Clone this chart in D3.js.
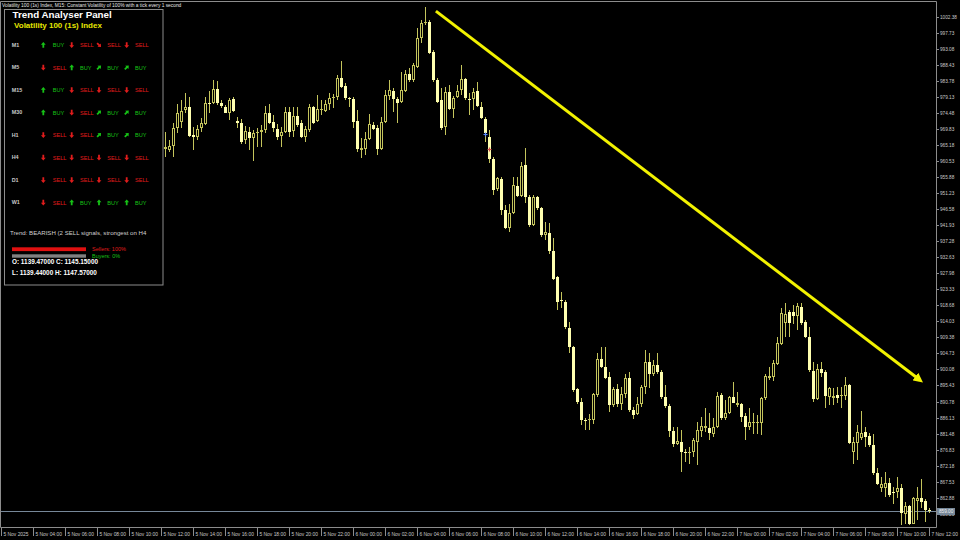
<!DOCTYPE html>
<html>
<head>
<meta charset="utf-8">
<script src="https://cdn.jsdelivr.net/npm/d3@7"></script>
<style>
html, body { margin: 0; padding: 0; background: #000; }
svg { display: block; }
text { font-family: "Liberation Sans", Arial, sans-serif; }
</style>
</head>
<body>
<svg id="chart" width="960" height="540"></svg>
<script>
// M15 bars, first visible one is 5 Nov 12:15
var firstBar = new Date(2025, 10, 5, 12, 15);

var open = [
  964.0, 963.7, 965.0, 970.0, 971.9, 975.3, 976.1, 968.1, 967.6, 970.0,
  971.3, 977.3, 977.3, 981.3, 977.3, 976.3, 974.4, 978.4, 972.2, 971.6,
  966.6, 969.0, 967.1, 968.8, 968.9, 969.5, 974.4, 971.9, 969.8, 967.8,
  968.9, 974.8, 969.2, 973.6, 971.5, 967.6, 969.5, 976.3, 972.2, 975.3,
  975.0, 977.0, 978.7, 979.0, 984.5, 982.3, 978.7, 978.5, 972.1, 963.7,
  963.9, 966.8, 971.0, 970.0, 963.9, 971.9, 979.5, 980.7, 978.4, 977.7,
  980.9, 985.8, 984.0, 987.9, 996.1, 1000.5, 1000.9, 992.2, 984.0, 978.2,
  970.5, 980.4, 975.5, 979.0, 981.1, 984.3, 978.5, 978.4, 980.9, 976.3,
  972.7, 967.6, 961.1, 952.3, 955.3, 946.3, 941.0, 945.4, 953.3, 950.4,
  959.4, 950.2, 942.0, 950.0, 946.8, 939.1, 939.7, 934.5, 926.8, 920.2,
  919.7, 912.2, 906.5, 894.3, 890.7, 885.5, 885.4, 885.4, 892.7, 903.1,
  900.9, 897.8, 889.8, 894.4, 890.2, 893.1, 897.5, 888.3, 887.2, 890.2,
  895.1, 902.3, 898.8, 901.4, 899.4, 892.2, 889.6, 882.3, 878.6, 879.1,
  876.0, 875.8, 876.0, 879.1, 882.3, 883.0, 883.0, 881.5, 883.5, 892.7,
  885.9, 887.5, 892.2, 889.8, 890.0, 886.6, 883.3, 884.6, 884.6, 884.6,
  891.7, 897.5, 897.8, 901.8, 907.6, 913.5, 916.6, 916.8, 915.6, 918.3,
  913.7, 909.4, 899.7, 891.4, 900.1, 899.4, 892.2, 891.7, 892.7, 892.4,
  892.4, 895.6, 876.0, 878.8, 880.1, 882.0, 880.8, 878.2, 870.0, 865.6,
  865.6, 867.2, 864.6, 864.6, 865.6, 858.2, 860.5, 855.4, 862.0, 862.7,
  861.9, 859.3
];
var high = [
  968.8, 966.6, 971.5, 977.0, 978.2, 980.2, 979.2, 970.5, 971.0, 972.9,
  979.0, 980.9, 984.0, 983.8, 978.2, 976.8, 978.9, 979.2, 973.4, 972.6,
  970.7, 970.5, 969.5, 970.0, 971.0, 976.5, 977.1, 973.9, 971.3, 970.5,
  976.1, 976.1, 976.1, 976.1, 972.4, 970.7, 977.1, 976.5, 979.7, 978.2,
  978.2, 980.2, 979.9, 985.5, 989.6, 983.1, 979.2, 979.0, 975.3, 967.1,
  968.8, 974.1, 971.9, 971.0, 973.4, 981.1, 984.0, 981.6, 979.2, 986.4,
  986.9, 987.4, 988.9, 999.0, 1001.4, 1005.3, 1001.4, 992.7, 984.5, 981.6,
  982.1, 982.6, 979.4, 982.6, 988.4, 984.5, 980.2, 981.6, 983.5, 977.7,
  973.4, 969.5, 961.8, 956.0, 956.0, 947.8, 948.2, 956.0, 956.0, 960.3,
  964.2, 950.7, 950.7, 950.4, 947.3, 942.9, 942.5, 938.1, 927.2, 922.6,
  920.2, 913.9, 906.9, 894.6, 891.7, 885.9, 887.3, 893.2, 904.8, 906.5,
  906.5, 899.4, 895.1, 896.0, 895.1, 898.9, 899.4, 889.3, 892.2, 895.6,
  905.7, 904.9, 902.8, 904.8, 899.9, 895.6, 890.1, 883.5, 883.5, 882.5,
  876.9, 877.7, 880.1, 884.9, 886.4, 888.8, 887.4, 885.9, 893.6, 893.3,
  891.2, 892.4, 896.5, 893.6, 890.3, 887.4, 888.8, 887.4, 886.9, 892.2,
  898.8, 900.9, 902.8, 909.6, 917.8, 919.3, 917.3, 918.8, 919.3, 919.4,
  914.4, 912.5, 902.3, 901.8, 902.3, 899.9, 895.1, 894.6, 894.9, 895.1,
  897.8, 895.9, 880.6, 884.0, 888.1, 883.5, 881.6, 881.4, 871.4, 869.0,
  870.4, 868.5, 866.1, 869.0, 867.0, 861.7, 860.8, 863.0, 866.1, 868.2,
  862.4, 859.8
];
var low = [
  961.8, 963.2, 961.8, 968.6, 970.0, 974.4, 967.6, 963.7, 966.6, 969.0,
  971.0, 974.4, 977.1, 976.7, 975.8, 974.4, 972.4, 974.8, 970.0, 965.6,
  965.6, 963.7, 960.6, 964.7, 964.7, 968.6, 971.3, 969.0, 966.6, 964.7,
  968.6, 967.6, 967.6, 970.5, 967.1, 966.1, 969.0, 971.3, 971.9, 973.9,
  974.8, 975.3, 975.8, 978.2, 981.6, 978.2, 976.3, 970.0, 963.2, 961.3,
  962.3, 966.6, 969.5, 962.3, 963.7, 971.5, 978.2, 974.8, 971.5, 977.3,
  980.6, 983.5, 983.5, 987.4, 994.7, 1000.0, 991.6, 983.5, 977.3, 969.5,
  968.1, 975.3, 972.9, 978.7, 979.7, 978.2, 973.9, 975.3, 976.3, 972.6,
  966.1, 959.9, 950.7, 951.9, 944.9, 940.7, 940.0, 945.2, 950.2, 950.0,
  948.3, 941.5, 941.7, 946.3, 938.6, 937.6, 933.7, 926.0, 917.3, 917.8,
  911.7, 904.8, 893.6, 890.2, 883.9, 882.5, 882.5, 884.4, 892.2, 900.4,
  897.2, 887.8, 889.3, 889.3, 888.3, 891.7, 887.8, 885.6, 886.9, 889.3,
  892.9, 894.6, 898.2, 898.9, 891.4, 888.8, 880.6, 877.7, 878.1, 870.4,
  873.3, 872.8, 874.8, 872.4, 880.6, 882.0, 879.6, 880.6, 883.0, 885.4,
  885.4, 887.1, 890.3, 889.3, 884.9, 879.6, 882.5, 881.5, 881.4, 881.1,
  891.2, 897.0, 896.8, 901.4, 907.2, 909.6, 909.6, 913.3, 911.5, 913.0,
  909.1, 899.4, 890.7, 891.2, 898.0, 888.8, 889.8, 889.8, 890.3, 888.8,
  891.2, 878.6, 872.8, 873.8, 879.6, 877.7, 877.7, 869.5, 866.6, 864.6,
  863.2, 863.2, 861.2, 862.7, 855.0, 855.4, 855.0, 855.2, 856.4, 859.8,
  855.9, 858.5
];
var close = [
  964.7, 965.0, 970.0, 974.5, 975.0, 976.1, 967.9, 967.6, 969.7, 971.5,
  977.3, 977.1, 981.3, 977.3, 976.5, 974.5, 978.2, 975.1, 971.5, 965.9,
  969.2, 967.1, 968.7, 968.9, 969.6, 974.4, 971.5, 970.0, 967.6, 969.0,
  974.8, 969.0, 973.6, 971.0, 967.6, 969.7, 976.3, 971.6, 975.6, 975.5,
  977.0, 978.7, 979.0, 984.5, 982.1, 978.7, 978.4, 971.9, 963.9, 964.2,
  966.8, 971.2, 969.7, 963.9, 971.9, 979.7, 981.0, 978.4, 977.4, 981.1,
  985.8, 984.0, 988.4, 996.1, 1000.6, 1000.9, 991.9, 984.0, 977.7, 970.0,
  980.4, 975.5, 978.7, 980.9, 984.3, 978.7, 978.4, 980.6, 976.6, 972.9,
  968.6, 961.1, 952.1, 955.5, 946.3, 941.0, 945.4, 953.6, 950.4, 959.1,
  950.0, 942.0, 950.0, 946.8, 939.1, 940.0, 934.5, 926.3, 919.7, 920.0,
  912.3, 906.5, 894.1, 890.7, 885.4, 885.3, 885.6, 893.0, 903.1, 900.7,
  897.5, 889.8, 894.4, 890.2, 893.1, 897.5, 888.3, 886.9, 890.2, 895.1,
  902.3, 898.8, 901.4, 899.4, 892.0, 889.6, 882.3, 878.6, 879.4, 876.2,
  875.8, 876.2, 879.6, 882.5, 883.7, 883.7, 881.7, 883.5, 892.4, 885.9,
  887.5, 892.2, 890.4, 890.4, 886.4, 883.5, 884.9, 884.9, 884.9, 891.7,
  898.3, 898.2, 902.0, 907.8, 916.4, 916.1, 913.5, 915.6, 918.5, 913.5,
  909.4, 899.9, 891.4, 900.1, 899.1, 892.4, 894.6, 892.4, 891.7, 892.7,
  895.6, 878.8, 879.1, 882.0, 881.7, 880.6, 878.2, 870.0, 866.9, 867.0,
  867.2, 863.7, 864.2, 865.6, 858.4, 860.5, 855.4, 862.7, 862.7, 861.7,
  859.3, 859.0
];

var yTickLabels = ["858.23", "862.88", "867.53", "872.18", "876.83", "881.48", "886.13", "890.78",
  "895.43", "900.08", "904.73", "909.38", "914.03", "918.68", "923.33", "927.98", "932.63",
  "937.28", "941.93", "946.58", "951.23", "955.88", "960.53", "965.18", "969.83", "974.48",
  "979.13", "983.78", "988.43", "993.08", "997.73", "1002.38"];

var xTickLabels = ["5 Nov 2025", "5 Nov 04:00", "5 Nov 06:00", "5 Nov 08:00", "5 Nov 10:00",
  "5 Nov 12:00", "5 Nov 14:00", "5 Nov 16:00", "5 Nov 18:00", "5 Nov 20:00", "5 Nov 22:00",
  "6 Nov 00:00", "6 Nov 02:00", "6 Nov 04:00", "6 Nov 06:00", "6 Nov 08:00", "6 Nov 10:00",
  "6 Nov 12:00", "6 Nov 14:00", "6 Nov 16:00", "6 Nov 18:00", "6 Nov 20:00", "6 Nov 22:00",
  "7 Nov 00:00", "7 Nov 02:00", "7 Nov 04:00", "7 Nov 06:00", "7 Nov 08:00", "7 Nov 10:00",
  "7 Nov 12:00"];

// hand-drawn trend arrow (time, price)
var trendTimes = [new Date(2025, 10, 6, 5, 11), new Date(2025, 10, 7, 11, 26)];
var trendPrices = [1004.0, 897.0];

// small trade marks on the chart
var markBars = [80, 81];
var markPrices = [968.4, 964.0];
var markColors = ["#5a8cff", "#d04848"];

// panel contents
var timeframes = ["M1", "M5", "M15", "M30", "H1", "H4", "D1", "W1"];
var signalDirs = [
  ["up", "down", "downright", "down"],
  ["down", "up", "upright", "upright"],
  ["up", "down", "down", "down"],
  ["up", "down", "upright", "upright"],
  ["down", "down", "upright", "upright"],
  ["down", "down", "down", "down"],
  ["down", "down", "down", "down"],
  ["down", "up", "up", "up"]
];
var signalText = [
  ["BUY", "SELL", "SELL", "SELL"],
  ["SELL", "BUY", "BUY", "BUY"],
  ["BUY", "SELL", "SELL", "SELL"],
  ["BUY", "SELL", "BUY", "BUY"],
  ["SELL", "SELL", "BUY", "BUY"],
  ["SELL", "SELL", "SELL", "SELL"],
  ["SELL", "SELL", "SELL", "SELL"],
  ["SELL", "BUY", "BUY", "BUY"]
];
var sellersPct = 100;
var buyersPct = 0;
var lastOHLC = ["1139.47000", "1145.15000", "1139.44000", "1147.57000"];

var svg = d3.select('#chart');
svg.append('rect').attr('width', 960).attr('height', 540).attr('fill', '#000');

var x = d3.scaleTime()
  .domain([new Date(2025, 10, 5, 2, 0), new Date(2025, 10, 7, 12, 0)])
  .range([1, 929]);
var y = d3.scaleLinear().domain([854.24, 1006.79]).range([527.5, 1.5]);

var barTimes = d3.timeMinute.every(15).range(firstBar, d3.timeMinute.offset(firstBar, 15 * close.length));
var candles = close.map(function(c, i) {
  return { t: barTimes[i], o: open[i], h: high[i], l: low[i], c: c };
});

var wickCol = '#c4c45c';
var bearCol = '#ffffb0';

// frame
svg.append('path')
  .attr('d', 'M0.5,1.5H936.5V527.5H0.5Z')
  .attr('fill', 'none').attr('stroke', '#8c8c8c').attr('stroke-width', 1);

// bid line under candles
var bid = close[close.length - 1];
var bidY = Math.round(y(bid)) + 0.5;
svg.append('line')
  .attr('x1', 1).attr('x2', 936).attr('y1', bidY).attr('y2', bidY)
  .attr('stroke', '#778899').attr('stroke-width', 1);

var cg = svg.append('g').attr('class', 'candles');
var bars = cg.selectAll('g').data(candles).enter().append('g');
bars.append('line')
  .attr('x1', function(d) { return Math.round(x(d.t)) + 0.5; })
  .attr('x2', function(d) { return Math.round(x(d.t)) + 0.5; })
  .attr('y1', function(d) { return Math.round(y(d.h)); })
  .attr('y2', function(d) { return Math.round(y(d.l)); })
  .attr('stroke', wickCol).attr('stroke-width', 1);
bars.each(function(d) {
  var g = d3.select(this);
  var cx = Math.round(x(d.t));
  var top = Math.round(y(Math.max(d.o, d.c)));
  var bot = Math.round(y(Math.min(d.o, d.c)));
  if (d.c < d.o) {
    g.append('rect')
      .attr('x', cx - 1).attr('y', top).attr('width', 3).attr('height', Math.max(1, bot - top))
      .attr('fill', bearCol);
  } else if (bot - top >= 2) {
    g.append('rect')
      .attr('x', cx - 0.5).attr('y', top + 0.5).attr('width', 2).attr('height', bot - top - 1)
      .attr('fill', '#000').attr('stroke', wickCol).attr('stroke-width', 1);
  } else {
    g.append('rect')
      .attr('x', cx - 1).attr('y', top).attr('width', 3).attr('height', 1)
      .attr('fill', wickCol);
  }
});

// trade marks
markBars.forEach(function(b, i) {
  var mx = Math.round(x(barTimes[b])) + 0.5;
  var my = Math.round(y(markPrices[i])) + 0.5;
  svg.append('path')
    .attr('d', 'M' + (mx - 2) + ',' + my + 'H' + (mx + 2) + 'M' + mx + ',' + (my - 2) + 'V' + (my + 2))
    .attr('stroke', markColors[i]).attr('stroke-width', 1.2);
});

// trend arrow
var defs = svg.append('defs');
defs.append('marker')
  .attr('id', 'head').attr('viewBox', '0 0 10 10').attr('refX', 6).attr('refY', 5)
  .attr('markerWidth', 3.2).attr('markerHeight', 3.2).attr('orient', 'auto')
  .append('path').attr('d', 'M0,0L10,5L0,10Z').attr('fill', '#f2f200');
svg.append('line')
  .attr('x1', x(trendTimes[0])).attr('y1', y(trendPrices[0]))
  .attr('x2', x(trendTimes[1])).attr('y2', y(trendPrices[1]))
  .attr('stroke', '#f2f200').attr('stroke-width', 3)
  .attr('marker-end', 'url(#head)');

// price axis
var yAxis = svg.append('g').attr('class', 'y-axis');
yTickLabels.forEach(function(lbl) {
  var ty = Math.round(y(+lbl)) + 0.5;
  yAxis.append('line').attr('x1', 936).attr('x2', 939).attr('y1', ty).attr('y2', ty)
    .attr('stroke', '#8c8c8c');
  yAxis.append('text').attr('x', 940).attr('y', ty).attr('dy', '0.36em')
    .attr('fill', '#c8c8c8').attr('font-size', 4.7).text(lbl);
});

// bid label
svg.append('rect').attr('x', 937).attr('y', bidY - 3.5).attr('width', 18).attr('height', 7)
  .attr('fill', '#778899');
svg.append('text').attr('x', 939).attr('y', bidY).attr('dy', '0.36em')
  .attr('fill', '#f0f0f0').attr('font-size', 4.7).text(bid.toFixed(2));

// time axis
var xTickTimes = d3.timeHour.every(2).range(x.domain()[0], d3.timeHour.offset(x.domain()[1], 1));
var xAxis = svg.append('g').attr('class', 'x-axis');
xTickTimes.forEach(function(t, i) {
  var tx = Math.round(x(t)) + 0.5;
  xAxis.append('line').attr('x1', tx).attr('x2', tx).attr('y1', 528).attr('y2', 536)
    .attr('stroke', '#8c8c8c');
  xAxis.append('text').attr('x', tx + 2).attr('y', 536)
    .attr('fill', '#c8c8c8').attr('font-size', 4.9).text(xTickLabels[i]);
});

// chart title
svg.append('text').attr('x', 2).attr('y', 6.9).attr('fill', '#e6e6e6').attr('font-size', 4.85)
  .text('Volatility 100 (1s) Index, M15:  Constant Volatility of 100% with a tick every 1 second');

// analyser panel
var panel = svg.append('g').attr('class', 'panel');
panel.append('rect').attr('x', 4.5).attr('y', 9.5).attr('width', 158.5).attr('height', 275.5)
  .attr('fill', '#000').attr('stroke', '#8c8c8c').attr('stroke-width', 1);
panel.append('text').attr('x', 12.5).attr('y', 17.8).attr('fill', '#fff')
  .attr('font-size', 9.8).attr('font-weight', 'bold').text('Trend Analyser Panel');
panel.append('text').attr('x', 14).attr('y', 28).attr('fill', '#e6e600')
  .attr('font-size', 8).attr('font-weight', 'bold').text('Volatility 100 (1s) Index');

// arrow shape pointing up, rotated per direction
var arrowPath = 'M0,-2.9L2.4,-0.2H0.9V2.7H-0.9V-0.2H-2.4Z';
var arrowAngle = { up: 0, down: 180, upright: 45, downright: 135 };
var arrowX = [43.3, 71.7, 99, 126.7];
var textX = [52.7, 80, 107.3, 135];
timeframes.forEach(function(tf, r) {
  var ry = 45 + r * 22.5;
  panel.append('text').attr('x', 11.7).attr('y', ry).attr('dy', '0.36em')
    .attr('fill', '#c8c8c8').attr('font-size', 5.4).attr('font-weight', 'bold').text(tf);
  for (var c = 0; c < 4; c++) {
    var col = signalText[r][c] === 'BUY' ? '#16c216' : '#e01c1c';
    panel.append('path').attr('d', arrowPath)
      .attr('transform', 'translate(' + arrowX[c] + ',' + ry + ') rotate(' + arrowAngle[signalDirs[r][c]] + ')')
      .attr('fill', col);
    panel.append('text').attr('x', textX[c]).attr('y', ry).attr('dy', '0.36em')
      .attr('fill', col).attr('font-size', 5.6).text(signalText[r][c]);
  }
});

panel.append('text').attr('x', 10).attr('y', 232.7).attr('dy', '0.36em')
  .attr('fill', '#cfcfcf').attr('font-size', 6.1)
  .text('Trend: BEARISH (2 SELL signals, strongest on H4');

var barW = 74;
panel.append('rect').attr('x', 12).attr('y', 254.3).attr('width', barW).attr('height', 3.4).attr('fill', '#808080');
panel.append('rect').attr('x', 12).attr('y', 254.3).attr('width', barW * buyersPct / 100).attr('height', 3.4).attr('fill', '#16c216');
panel.append('rect').attr('x', 12).attr('y', 247.3).attr('width', barW * sellersPct / 100).attr('height', 3.8).attr('fill', '#e01010');
panel.append('text').attr('x', 92).attr('y', 249.3).attr('dy', '0.36em')
  .attr('fill', '#e01c1c').attr('font-size', 5.5).text('Sellers: ' + sellersPct + '%');
panel.append('text').attr('x', 92).attr('y', 256).attr('dy', '0.36em')
  .attr('fill', '#16c216').attr('font-size', 5.5).text('Buyers: ' + buyersPct + '%');
panel.append('text').attr('x', 12).attr('y', 261.7).attr('dy', '0.36em')
  .attr('fill', '#fff').attr('font-size', 6.4).attr('font-weight', 'bold')
  .text('O: ' + lastOHLC[0] + ' C: ' + lastOHLC[1]);
panel.append('text').attr('x', 12).attr('y', 272.9).attr('dy', '0.36em')
  .attr('fill', '#fff').attr('font-size', 6.4).attr('font-weight', 'bold')
  .text('L: ' + lastOHLC[2] + ' H: ' + lastOHLC[3]);
</script>
</body>
</html>
